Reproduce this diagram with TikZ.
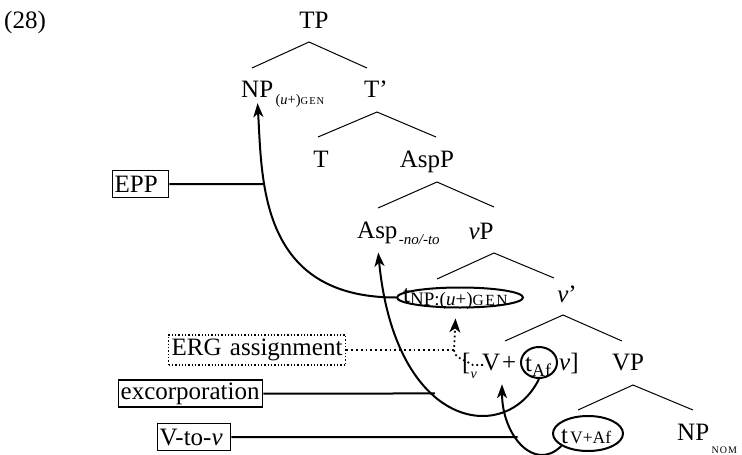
\documentclass[tikz,border=0pt]{standalone}
\usepackage{fontspec}
\setmainfont{Liberation Serif}
\newfontfamily\capsfont[LetterSpace=10]{Liberation Serif}
\usetikzlibrary{arrows.meta,intersections,shapes.geometric}

% size switch and spaced capitals for case features
\newcommand\sz[1]{\fontsize{#1}{#1}\selectfont}
\newcommand\featcaps[2]{{\capsfont\fontsize{#1}{#1}\selectfont #2}}

\begin{document}
\begin{tikzpicture}[x=1pt,y=-1pt,
  every node/.style={font={\fontsize{25}{29}\selectfont}, inner sep=0pt},
  lbl/.style={anchor=base},
  lblw/.style={anchor=base west},
  branch/.style={line width=1pt},
  move/.style={line width=2pt, -{Stealth[length=14pt,width=10pt,inset=4pt]}},
  plain/.style={line width=2pt},
  tagbox/.style={draw, line width=1.3pt, inner xsep=2pt, minimum height=27pt, anchor=west, align=left},
  dotbox/.style={draw, line width=1.3pt, dash pattern=on 1.3pt off 2pt, inner xsep=3pt, minimum height=30pt, anchor=west, align=left},
  dotline/.style={line width=1.8pt, dash pattern=on 1.8pt off 3pt},
  trace/.style={draw, ellipse, line width=2pt, inner sep=0pt},
]
\useasboundingbox (0,0) rectangle (742,455);

% example number
\node[lblw] (exnum) at (4,28) {(28)};

% tree labels
\node[lbl] (tp) at (314,28) {TP};
\node[lblw] (np) at (241,97) {NP};
\node[lblw] (npsub) at ([xshift=2pt,yshift=-7pt]np.base east) {\sz{14.5}(\textit{u}+)\featcaps{10.5}{GEN}};
\node[lbl] (tbar) at (376,97) {T’};
\node[lbl] (t) at (321,167) {T};
\node[lbl] (aspp) at (427,167) {AspP};
\node[lblw] (asp) at (357,238) {Asp};
\node[lblw] (aspsub) at ([xshift=1pt,yshift=-6pt]asp.base east) {\sz{15}\textit{-no/-to}};
\node[lbl] (vp) at (481,239) {\textit{ν}P};
\node[trace, minimum width=126pt, minimum height=20pt] (tnp) at (460,297.5) {};
\node[lblw] (tnplabel) at (403,302) {t\raisebox{-3pt}{\sz{19}NP:(\textit{u}+)\featcaps{15.5}{GEN}}};
\node[lbl] (vbar) at (567,302) {\textit{ν}’};
\node[lblw] (lbr) at (462,370) {[\raisebox{-8pt}{\sz{14}\textit{ν}}};
\node[lblw] (verb) at (482,370) {V};
\node[lblw] (plus) at (502,370) {+};
\node[trace, minimum width=36pt, minimum height=31pt] (taf) at (539,362.5) {};
\node[lblw] (taflabel) at (525,371) {t\raisebox{-5pt}{\sz{18}Af}};
\node[lblw] (vhead) at (559,370) {\textit{ν}]};
\node[lbl] (vpp) at (628,370) {VP};
\node[trace, minimum width=70pt, minimum height=35pt] (tv) at (588,433.5) {};
\node[lblw] (tvlabel) at (561,443) {t\hspace{2pt}\sz{17.5}V+Af};
\node[lblw] (npnom) at (677,440) {NP};
\node[lblw] (nomsub) at ([xshift=2pt,yshift=-13pt]npnom.base east) {\featcaps{10}{NOM}};

% branch points
\coordinate (tp-a) at (309,42);  \coordinate (tp-l) at (252,68);  \coordinate (tp-r) at (367,68);
\coordinate (tb-a) at (377,112); \coordinate (tb-l) at (318,137); \coordinate (tb-r) at (436,137);
\coordinate (ap-a) at (437,182); \coordinate (ap-l) at (378,208); \coordinate (ap-r) at (494,207);
\coordinate (vp-a) at (494,253); \coordinate (vp-l) at (437,279); \coordinate (vp-r) at (554,278);
\coordinate (vb-a) at (563,315); \coordinate (vb-l) at (505,341); \coordinate (vb-r) at (622,341);
\coordinate (VP-a) at (633,385); \coordinate (VP-l) at (578,410); \coordinate (VP-r) at (693,410);
\foreach \b in {tp,tb,ap,vp,vb,VP}
  \draw[branch] (\b-l) -- (\b-a) -- (\b-r);

% operation labels
\node[tagbox, text width=52pt] (epp) at (112,184) {EPP};
\node[dotbox, text width=171pt] (erg) at (168,350) {ERG assignment};
\node[tagbox, text width=140pt] (exc) at (118,393.5) {excorporation};
\node[tagbox, text width=69pt] (vtov) at (157,437) {V-to-\textit{ν}};

% EPP-driven raising of the subject
\draw[move, shorten >=6pt, name path=eppcurve]
  (tnp.west) .. controls +(-137,0) and +(5,83) .. (np.south);
\path[name path=eppray] (epp.east) -- ++(250,0);
\draw[plain, name intersections={of=eppcurve and eppray, sort by=eppray, by=eppjoin}]
  (epp.east) -- (eppjoin);

% excorporation of the affix to Asp
\draw[move, shorten >=9pt, name path=aspcurve]
  (taf.south) .. controls +(-33,67) and +(18,187) .. (asp.south);
\path[name path=excray] (exc.east) -- ++(300,0);
\draw[plain, name intersections={of=aspcurve and excray, sort by=excray, by=excjoin}]
  (exc.east) -- (excjoin);

% V-to-v head movement
\draw[move, shorten >=14pt, name path=vcurve]
  (tv.205) .. controls +(-27,27) and +(0,65) .. (plus.south west);
\path[name path=vray] (vtov.east) -- ++(400,0);
\draw[plain, name intersections={of=vcurve and vray, sort by=vray, by=vjoin}]
  (vtov.east) -- (vjoin);

% ERG assignment by v
\coordinate (ergjoin) at (454,350);
\coordinate (ergfoot) at (483,365);
\draw[dotline] (erg.east) -- (ergjoin);
\draw[dotline, -{Stealth[length=14pt,width=11pt,inset=4pt]}, shorten >=10pt]
  (ergfoot) -- ++(-10,0) .. controls +(-8,-5) and +(0,8) .. (ergjoin) -- (tnp.250);
\end{tikzpicture}
\end{document}
